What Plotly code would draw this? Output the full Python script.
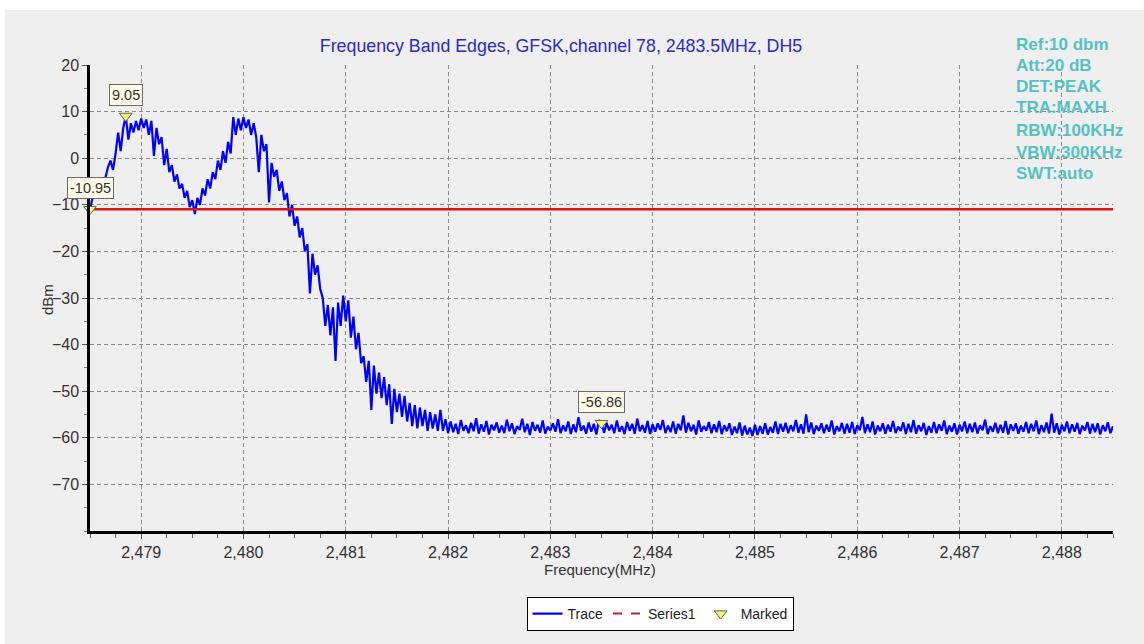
import numpy as np
import plotly.graph_objects as go

# ---------------- data ----------------
freq_start = 2478.5      # MHz, first sweep point
freq_step = 0.025        # MHz, sweep point spacing

# levels, 2478.500 .. 2482.000 MHz (dBm)
level_inband = [
    -11.0, -8.5, -6.0, -8.0, -4.5, -6.5, -4.0, -2.0, -0.5, -2.5,
    1.0, 5.5, 1.5, 6.5, 9.05, 4.0, 7.5, 5.5, 8.0, 6.0,
    8.5, 6.5, 8.3, 5.0, 8.0, 0.5, 6.5, 3.0, 4.5, -1.5,
    2.0, -3.0, -1.5, -5.0, -3.5, -6.5, -5.5, -8.5, -7.0, -10.5,
    -9.0, -12.0, -8.5, -10.0, -6.5, -8.0, -4.5, -6.5, -3.0, -4.5,
    -0.5, -2.5, 1.5, -1.0, 3.5, 1.0, 8.8, 5.0, 8.5, 6.0,
    8.8, 6.5, 8.3, 5.0, 7.5, 4.5, -3.0, 5.0, 1.5, 3.0,
    -9.5, -1.0, -4.0, -2.5, -7.0, -5.0, -9.0, -7.5, -12.5, -10.0,
    -14.5, -12.5, -17.0, -15.0, -20.0, -18.5, -29.0, -20.5, -25.0, -23.0,
    -28.0, -30.0, -36.0, -31.5, -38.0, -32.0, -43.5, -31.0, -36.0, -29.5,
    -35.0, -30.5, -38.5, -34.0, -41.0, -37.5, -44.0, -42.5, -48.0, -43.5,
    -54.0, -44.5, -50.5, -46.0, -51.5, -47.0, -53.0, -48.5, -57.0, -49.5,
    -54.5, -50.5, -55.5, -51.0, -56.5, -52.5, -57.5, -53.0, -58.0, -53.5,
    -57.5, -54.0, -58.5, -54.5, -58.0, -55.0, -58.5, -54.0, -58.5, -56.0,
    -59.0,
]

# noise floor, 2482.025 .. 2488.500 MHz (dBm)
level_floor = [
    -56.5, -58.8, -57.0, -59.2, -56.2, -58.5, -57.3, -59.0, -56.8, -58.6, -55.8, -59.1, -57.1, -58.7, -56.4, -59.3, -57.2, -58.4, -56.7, -58.9,
    -57.4, -59.0, -56.1, -58.6, -56.9, -59.2, -57.5, -58.3, -55.9, -58.8, -57.0, -59.4, -56.6, -58.5, -57.2, -58.9, -56.3, -59.1, -57.6, -58.4,
    -56.9, -58.7, -56.0, -59.0, -57.3, -58.6, -56.5, -59.2, -57.1, -58.8, -55.6, -58.5, -57.4, -59.1, -56.7, -58.7, -57.0, -59.3, -56.2, -56.86,
    -58.9, -56.8, -58.4, -57.2, -59.0, -56.3, -58.7, -57.5, -59.2, -56.6, -58.5, -57.0, -59.1, -55.9, -58.6, -57.3, -58.9, -56.4, -59.2, -57.1,
    -58.7, -56.9, -58.3, -56.2, -59.0, -57.4, -58.8, -56.5, -59.1, -57.0, -58.4, -55.2, -58.9, -56.8, -58.6, -57.2, -59.3, -56.3, -58.7, -57.5,
    -58.5, -56.6, -59.0, -57.1, -58.8, -56.4, -59.2, -57.3, -58.6, -56.9, -59.4, -57.6, -59.0, -56.7, -59.5, -57.4, -59.3, -57.8, -59.6, -57.2,
    -59.4, -57.5, -59.1, -56.9, -59.3, -57.7, -58.9, -56.5, -59.2, -57.0, -58.7, -56.8, -59.0, -57.3, -58.6, -56.2, -58.9, -57.1, -59.1, -55.0,
    -58.8, -56.7, -59.2, -57.4, -58.5, -56.9, -59.0, -57.2, -58.7, -56.3, -59.3, -57.5, -58.6, -56.8, -59.1, -57.0, -58.9, -56.6, -59.2, -57.3,
    -58.4, -55.5, -59.0, -57.1, -58.8, -56.5, -59.3, -57.4, -58.6, -56.9, -59.1, -57.2, -58.7, -56.4, -59.0, -57.6, -58.5, -56.7, -59.2, -57.0,
    -58.8, -56.2, -59.1, -57.3, -58.6, -56.8, -59.4, -57.5, -58.9, -56.6, -59.0, -57.1, -58.5, -56.3, -59.2, -57.4, -58.7, -56.9, -59.3, -57.2,
    -58.6, -56.5, -59.0, -57.0, -58.8, -56.7, -59.1, -57.3, -58.4, -56.1, -59.2, -57.5, -58.7, -56.8, -59.0, -57.2, -58.9, -56.4, -59.3, -57.1,
    -58.5, -56.9, -59.1, -57.4, -58.7, -56.6, -59.0, -57.0, -58.6, -56.3, -59.2, -57.3, -58.8, -56.7, -59.1, -54.8, -58.9, -56.9, -59.3, -57.2,
    -58.6, -56.5, -59.0, -57.1, -58.7, -56.8, -59.2, -57.4, -58.5, -56.6, -59.1, -57.0, -58.8, -56.9, -59.3, -57.3, -58.6, -56.7, -59.0, -57.5,
]

limit_level = -10.95                       # Series1 (red line)
limit_freq = [2478.5, 2488.5]

marker_freq = [2478.85, 2478.5, 2483.5]
marker_level = [9.05, -10.95, -56.86]
marker_text = ["9.05", "-10.95", "-56.86"]

x_tick_vals = [2479, 2480, 2481, 2482, 2483, 2484, 2485, 2486, 2487, 2488]
x_tick_text = ["2,479", "2,480", "2,481", "2,482", "2,483", "2,484", "2,485", "2,486", "2,487", "2,488"]
y_tick_vals = [-70, -60, -50, -40, -30, -20, -10, 0, 10, 20]

info_lines = ["Ref:10 dbm", "Att:20 dB", "DET:PEAK", "TRA:MAXH", "RBW:100KHz", "VBW:300KHz", "SWT:auto"]

levels = level_inband + level_floor
freqs = np.round(freq_start + freq_step * np.arange(len(levels)), 4)

# ---------------- figure ----------------
FONT = "Liberation Sans, Arial, sans-serif"
W, H = 1144, 644
L, R, T, B = 90, 31, 65, 113
PW, PH = W - L - R, H - T - B


def px_x(px):
    return (px - L) / PW


def px_y(py):
    return (H - B - py) / PH


fig = go.Figure()

fig.add_trace(go.Scatter(
    x=freqs, y=levels, mode="lines", name="Trace",
    line=dict(color="#0000ff", width=2.2),
))
fig.add_trace(go.Scatter(
    x=limit_freq, y=[limit_level, limit_level], mode="lines", name="Series1",
    line=dict(color="#e01010", width=2.5), showlegend=False,
))
# legend entry for Series1 (dashed in the legend of the reference)
fig.add_trace(go.Scatter(
    x=[None], y=[None], mode="lines", name="Series1",
    line=dict(color="#c0203a", width=2, dash="dash"),
))
fig.add_trace(go.Scatter(
    x=marker_freq, y=marker_level, mode="markers", name="Marked",
    marker=dict(symbol="triangle-down", size=11, color="#f2f27a",
                line=dict(color="#666644", width=1)),
    cliponaxis=False,
))

annotations = []
for f, v, t in zip(marker_freq, marker_level, marker_text):
    annotations.append(dict(
        x=f, y=v, xref="x", yref="y", text=t, showarrow=False,
        yshift=21, font=dict(family=FONT, size=14.5, color="#333333"),
        bgcolor="#fbfbe8", bordercolor="#6a6a6a", borderwidth=1, borderpad=2,
    ))

info_y = [44, 65, 87, 108, 130, 152, 174]
for txt, py in zip(info_lines, info_y):
    annotations.append(dict(
        x=px_x(1014), y=px_y(py), xref="paper", yref="paper",
        text="<b>" + txt + "</b>", showarrow=False, xanchor="left", yanchor="middle",
        font=dict(family=FONT, size=17, color="#55c2c2"),
    ))

annotations.append(dict(
    x=px_x(47), y=px_y(300), xref="paper", yref="paper", text="dBm",
    showarrow=False, textangle=-90, xanchor="center", yanchor="middle",
    font=dict(family=FONT, size=15, color="#333333"),
))
annotations.append(dict(
    x=px_x(600), y=px_y(569), xref="paper", yref="paper", text="Frequency(MHz)",
    showarrow=False, xanchor="center", yanchor="middle",
    font=dict(family=FONT, size=15, color="#333333"),
))

shapes = [dict(
    type="rect", xref="paper", yref="paper", layer="below",
    x0=px_x(5), x1=px_x(W + 2), y0=px_y(10), y1=px_y(H + 2),
    fillcolor="#efefef", line=dict(width=0),
)]

fig.update_layout(
    width=W, height=H,
    margin=dict(l=L, r=R, t=T, b=B, pad=0),
    paper_bgcolor="#ffffff", plot_bgcolor="#ffffff",
    font=dict(family=FONT, size=16, color="#333333"),
    title=dict(
        text="Frequency Band Edges, GFSK,channel 78, 2483.5MHz, DH5",
        x=561 / W, y=1 - 46 / H, xref="container", yref="container",
        xanchor="center", yanchor="middle",
        font=dict(family=FONT, size=17.8, color="#2b2bc0"),
    ),
    xaxis=dict(
        range=[2478.5, 2488.5], tickmode="array", tickvals=x_tick_vals, ticktext=x_tick_text,
        showline=True, linecolor="#000000", linewidth=2.5, mirror=False,
        ticks="outside", ticklen=5, tickcolor="#555555", tickwidth=1,
        showgrid=True, gridcolor="#8a8a8a", gridwidth=1, griddash="4px,3px",
        zeroline=False, tickfont=dict(family=FONT, size=16, color="#333333"),
        minor=dict(tickmode="linear", tick0=2478.5, dtick=0.25, ticks="outside",
                   ticklen=4, tickcolor="#666666", showgrid=False),
    ),
    yaxis=dict(
        range=[-80, 20], tickmode="array", tickvals=y_tick_vals,
        showline=True, linecolor="#000000", linewidth=2.5,
        ticks="outside", ticklen=5, tickcolor="#555555", tickwidth=1,
        showgrid=True, gridcolor="#8a8a8a", gridwidth=1, griddash="4px,3px",
        zeroline=False, tickfont=dict(family=FONT, size=16, color="#333333"),
        minor=dict(tickmode="linear", tick0=-80, dtick=5, ticks="outside",
                   ticklen=3, tickcolor="#777777", showgrid=False),
    ),
    legend=dict(
        orientation="h", x=px_x(660), y=px_y(597), xanchor="center", yanchor="top",
        bgcolor="#ffffff", bordercolor="#000000", borderwidth=1,
        font=dict(family=FONT, size=14, color="#222222"),
        itemwidth=30, tracegroupgap=0,
    ),
    annotations=annotations,
    shapes=shapes,
    showlegend=True,
)

fig.write_html("out.html")
